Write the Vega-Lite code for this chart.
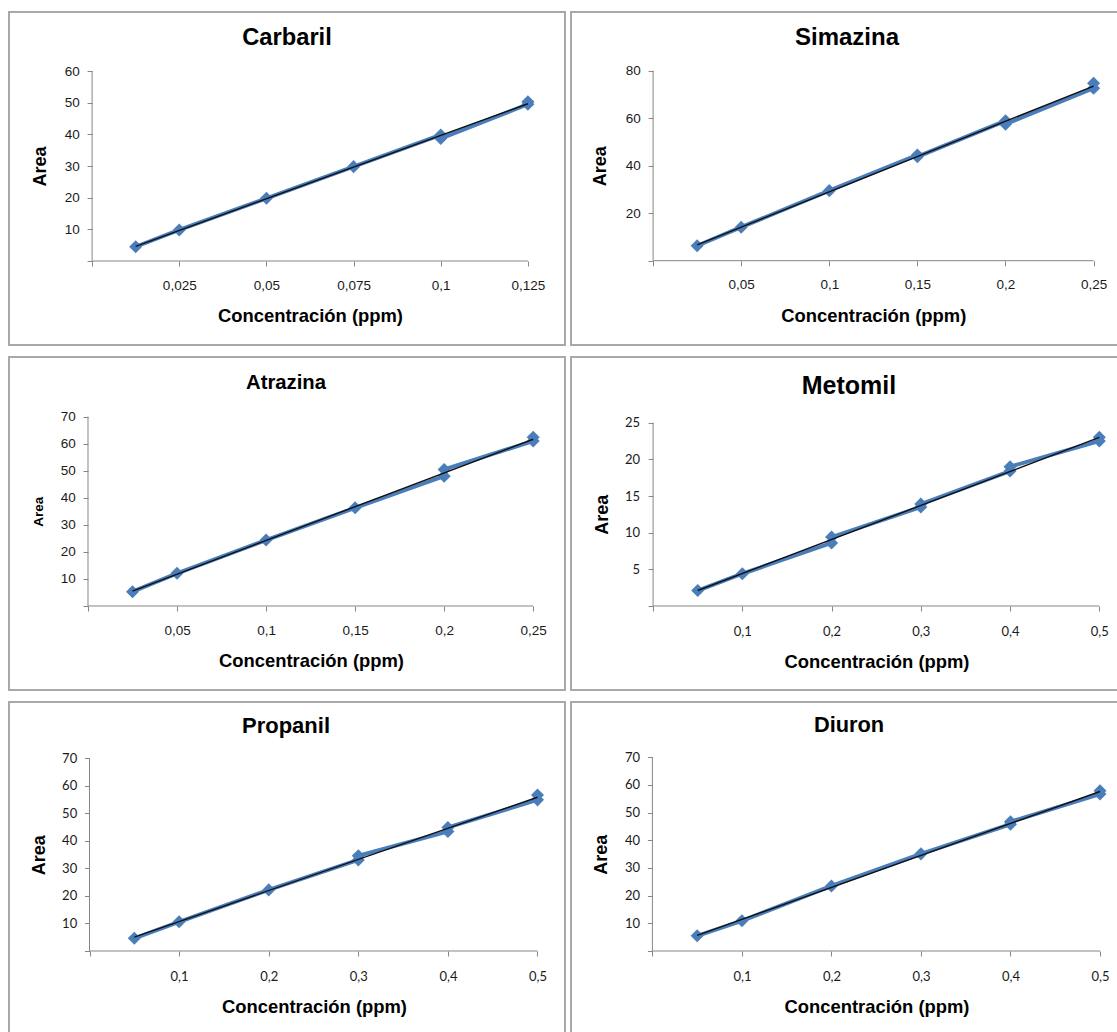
{
  "$schema": "https://vega.github.io/schema/vega-lite/v6.json",
  "padding": {"left": 8, "top": 11, "right": 0, "bottom": 0},
  "background": "white",
  "data": {
    "values": [
      {"panel": "Carbaril", "i": 1, "conc": 0.0125, "area": 4.5},
      {"panel": "Carbaril", "i": 2, "conc": 0.025, "area": 9.8},
      {"panel": "Carbaril", "i": 3, "conc": 0.05, "area": 19.8},
      {"panel": "Carbaril", "i": 4, "conc": 0.075, "area": 29.8},
      {"panel": "Carbaril", "i": 5, "conc": 0.1, "area": 39.8},
      {"panel": "Carbaril", "i": 6, "conc": 0.1, "area": 38.7},
      {"panel": "Carbaril", "i": 7, "conc": 0.125, "area": 49.5},
      {"panel": "Carbaril", "i": 8, "conc": 0.125, "area": 50.3},
      {"panel": "Simazina", "i": 1, "conc": 0.025, "area": 6.3},
      {"panel": "Simazina", "i": 2, "conc": 0.05, "area": 14.1},
      {"panel": "Simazina", "i": 3, "conc": 0.1, "area": 29.5},
      {"panel": "Simazina", "i": 4, "conc": 0.15, "area": 44.5},
      {"panel": "Simazina", "i": 5, "conc": 0.15, "area": 43.8},
      {"panel": "Simazina", "i": 6, "conc": 0.2, "area": 58.9},
      {"panel": "Simazina", "i": 7, "conc": 0.2, "area": 57.5},
      {"panel": "Simazina", "i": 8, "conc": 0.25, "area": 72.6},
      {"panel": "Simazina", "i": 9, "conc": 0.25, "area": 74.7},
      {"panel": "Atrazina", "i": 1, "conc": 0.025, "area": 5.3},
      {"panel": "Atrazina", "i": 2, "conc": 0.05, "area": 12.1},
      {"panel": "Atrazina", "i": 3, "conc": 0.1, "area": 24.4},
      {"panel": "Atrazina", "i": 4, "conc": 0.15, "area": 36.3},
      {"panel": "Atrazina", "i": 5, "conc": 0.2, "area": 48.0},
      {"panel": "Atrazina", "i": 6, "conc": 0.2, "area": 50.5},
      {"panel": "Atrazina", "i": 7, "conc": 0.25, "area": 61.0},
      {"panel": "Atrazina", "i": 8, "conc": 0.25, "area": 62.4},
      {"panel": "Metomil", "i": 1, "conc": 0.05, "area": 2.1},
      {"panel": "Metomil", "i": 2, "conc": 0.1, "area": 4.4},
      {"panel": "Metomil", "i": 3, "conc": 0.2, "area": 8.6},
      {"panel": "Metomil", "i": 4, "conc": 0.2, "area": 9.4},
      {"panel": "Metomil", "i": 5, "conc": 0.3, "area": 13.5},
      {"panel": "Metomil", "i": 6, "conc": 0.3, "area": 13.9},
      {"panel": "Metomil", "i": 7, "conc": 0.4, "area": 18.4},
      {"panel": "Metomil", "i": 8, "conc": 0.4, "area": 19.0},
      {"panel": "Metomil", "i": 9, "conc": 0.5, "area": 22.5},
      {"panel": "Metomil", "i": 10, "conc": 0.5, "area": 23.0},
      {"panel": "Propanil", "i": 1, "conc": 0.05, "area": 4.6},
      {"panel": "Propanil", "i": 2, "conc": 0.1, "area": 10.6},
      {"panel": "Propanil", "i": 3, "conc": 0.2, "area": 22.2},
      {"panel": "Propanil", "i": 4, "conc": 0.3, "area": 33.1},
      {"panel": "Propanil", "i": 5, "conc": 0.3, "area": 34.6},
      {"panel": "Propanil", "i": 6, "conc": 0.4, "area": 43.4},
      {"panel": "Propanil", "i": 7, "conc": 0.4, "area": 44.9},
      {"panel": "Propanil", "i": 8, "conc": 0.5, "area": 54.9},
      {"panel": "Propanil", "i": 9, "conc": 0.5, "area": 56.7},
      {"panel": "Diuron", "i": 1, "conc": 0.05, "area": 5.5},
      {"panel": "Diuron", "i": 2, "conc": 0.1, "area": 10.9},
      {"panel": "Diuron", "i": 3, "conc": 0.2, "area": 23.5},
      {"panel": "Diuron", "i": 4, "conc": 0.3, "area": 35.1},
      {"panel": "Diuron", "i": 5, "conc": 0.4, "area": 45.8},
      {"panel": "Diuron", "i": 6, "conc": 0.4, "area": 46.7},
      {"panel": "Diuron", "i": 7, "conc": 0.5, "area": 56.7},
      {"panel": "Diuron", "i": 8, "conc": 0.5, "area": 57.9}
    ]
  },
  "columns": 2,
  "spacing": {"row": 12, "column": 6},
  "bounds": "flush",
  "concat": [
    {
      "width": 556, "height": 333,
      "title": {"text": "Carbaril", "fontSize": 23.7, "dx": 0, "dy": 41.5},
      "transform": [{"filter": "datum.panel === 'Carbaril'"}],
      "encoding": {
        "x": {"field": "conc", "type": "quantitative", "title": "Concentración (ppm)",
          "scale": {"domain": [-0.023836, 0.135641], "nice": false, "zero": false},
          "axis": {"values": [0, 0.025, 0.05, 0.075, 0.1, 0.125], "offset": -84, "titleX": 301, "titleY": 54,
            "labelExpr": "datum.value == 0 ? '' : replace(format(datum.value, '~g'), '.', ',')"}},
        "y": {"field": "area", "type": "quantitative", "title": "Area",
          "scale": {"domain": [-26.526, 78.632], "nice": false, "zero": false},
          "axis": {"values": [0, 10, 20, 30, 40, 50, 60], "offset": -83.1, "titleX": -52.1, "titleY": 154,
            "labelExpr": "datum.value == 0 ? '' : datum.label"}}
      },
      "layer": [
        {"mark": {"type": "line", "color": "#4a7ebb", "strokeWidth": 4}, "encoding": {"order": {"field": "i"}}},
        {"mark": {"type": "point", "shape": "diamond", "filled": true, "size": 170, "color": "#4a7ebb", "opacity": 1}},
        {"transform": [{"regression": "area", "on": "conc"}], "mark": {"type": "line", "color": "#111111", "strokeWidth": 1.4}},
        {"transform": [{"filter": "datum.i == 1"}], "mark": {"type": "rule", "color": "#868686", "strokeWidth": 1},
          "encoding": {"x": {"datum": 0, "type": "quantitative"}, "x2": {"datum": 0.125}, "y": {"datum": 0, "type": "quantitative"}}},
        {"transform": [{"filter": "datum.i == 1"}], "mark": {"type": "rule", "color": "#868686", "strokeWidth": 1},
          "encoding": {"x": {"datum": 0, "type": "quantitative"}, "y": {"datum": 0, "type": "quantitative"}, "y2": {"datum": 60}}}
      ]
    },
    {
      "width": 556, "height": 333,
      "title": {"text": "Simazina", "fontSize": 24, "dx": -2, "dy": 41.7},
      "transform": [{"filter": "datum.panel === 'Simazina'"}],
      "encoding": {
        "x": {"field": "conc", "type": "quantitative", "title": "Concentración (ppm)",
          "scale": {"domain": [-0.046595, 0.268956], "nice": false, "zero": false},
          "axis": {"values": [0, 0.05, 0.1, 0.15, 0.2, 0.25], "offset": -84.3, "titleX": 302.3, "titleY": 54.3,
            "labelExpr": "datum.value == 0 ? '' : replace(format(datum.value, '~g'), '.', ',')"}},
        "y": {"field": "area", "type": "quantitative", "title": "Area",
          "scale": {"domain": [-35.495, 104.716], "nice": false, "zero": false},
          "axis": {"values": [0, 20, 40, 60, 80], "offset": -82.1, "titleX": -52.2, "titleY": 153.7,
            "labelExpr": "datum.value == 0 ? '' : datum.label"}}
      },
      "layer": [
        {"mark": {"type": "line", "color": "#4a7ebb", "strokeWidth": 4}, "encoding": {"order": {"field": "i"}}},
        {"mark": {"type": "point", "shape": "diamond", "filled": true, "size": 170, "color": "#4a7ebb", "opacity": 1}},
        {"transform": [{"regression": "area", "on": "conc"}], "mark": {"type": "line", "color": "#111111", "strokeWidth": 1.4}},
        {"transform": [{"filter": "datum.i == 1"}], "mark": {"type": "rule", "color": "#868686", "strokeWidth": 1},
          "encoding": {"x": {"datum": 0, "type": "quantitative"}, "x2": {"datum": 0.25}, "y": {"datum": 0, "type": "quantitative"}}},
        {"transform": [{"filter": "datum.i == 1"}], "mark": {"type": "rule", "color": "#868686", "strokeWidth": 1},
          "encoding": {"x": {"datum": 0, "type": "quantitative"}, "y": {"datum": 0, "type": "quantitative"}, "y2": {"datum": 80}}}
      ]
    },
    {
      "width": 556, "height": 333,
      "title": {"text": "Atrazina", "fontSize": 20.3, "dx": -1, "dy": 40.4},
      "transform": [{"filter": "datum.panel === 'Atrazina'"}],
      "encoding": {
        "x": {"field": "conc", "type": "quantitative", "title": "Concentración (ppm)",
          "scale": {"domain": [-0.044362, 0.267857], "nice": false, "zero": false},
          "axis": {"values": [0, 0.05, 0.1, 0.15, 0.2, 0.25], "offset": -84, "titleX": 302, "titleY": 54,
            "labelExpr": "datum.value == 0 ? '' : replace(format(datum.value, '~g'), '.', ',')"}},
        "y": {"field": "area", "type": "quantitative", "title": "Area",
          "scale": {"domain": [-31.062, 92.076], "nice": false, "zero": false},
          "axis": {"values": [0, 10, 20, 30, 40, 50, 60, 70], "offset": -79, "titleX": -50, "titleY": 154.3, "titleFontSize": 13.5,
            "labelExpr": "datum.value == 0 ? '' : datum.label"}}
      },
      "layer": [
        {"mark": {"type": "line", "color": "#4a7ebb", "strokeWidth": 4}, "encoding": {"order": {"field": "i"}}},
        {"mark": {"type": "point", "shape": "diamond", "filled": true, "size": 170, "color": "#4a7ebb", "opacity": 1}},
        {"transform": [{"regression": "area", "on": "conc"}], "mark": {"type": "line", "color": "#111111", "strokeWidth": 1.4}},
        {"transform": [{"filter": "datum.i == 1"}], "mark": {"type": "rule", "color": "#868686", "strokeWidth": 1},
          "encoding": {"x": {"datum": 0, "type": "quantitative"}, "x2": {"datum": 0.25}, "y": {"datum": 0, "type": "quantitative"}}},
        {"transform": [{"filter": "datum.i == 1"}], "mark": {"type": "rule", "color": "#868686", "strokeWidth": 1},
          "encoding": {"x": {"datum": 0, "type": "quantitative"}, "y": {"datum": 0, "type": "quantitative"}, "y2": {"datum": 70}}}
      ]
    },
    {
      "width": 556, "height": 333,
      "title": {"text": "Metomil", "fontSize": 25, "dx": 0, "dy": 46.2},
      "transform": [{"filter": "datum.panel === 'Metomil'"}],
      "encoding": {
        "x": {"field": "conc", "type": "quantitative", "title": "Concentración (ppm)",
          "scale": {"domain": [-0.092, 0.53104], "nice": false, "zero": false},
          "axis": {"values": [0, 0.1, 0.2, 0.3, 0.4, 0.5], "offset": -84, "titleX": 305.5, "titleY": 55.7,
            "labelFont": "Lato", "labelFontSize": 13, "labelPadding": 20.7,
            "labelExpr": "datum.value == 0 ? '' : replace(format(datum.value, '~g'), '.', ',')"}},
        "y": {"field": "area", "type": "quantitative", "title": "Area",
          "scale": {"domain": [-11.457, 33.961], "nice": false, "zero": false},
          "axis": {"values": [0, 5, 10, 15, 20, 25], "offset": -82.1, "titleX": -50.5, "titleY": 157.3,
            "labelFont": "Lato", "labelFontSize": 13, "labelPadding": 8.5,
            "labelExpr": "datum.value == 0 ? '' : datum.label"}}
      },
      "layer": [
        {"mark": {"type": "line", "color": "#4a7ebb", "strokeWidth": 4}, "encoding": {"order": {"field": "i"}}},
        {"mark": {"type": "point", "shape": "diamond", "filled": true, "size": 170, "color": "#4a7ebb", "opacity": 1}},
        {"transform": [{"regression": "area", "on": "conc"}], "mark": {"type": "line", "color": "#111111", "strokeWidth": 1.4}},
        {"transform": [{"filter": "datum.i == 1"}], "mark": {"type": "rule", "color": "#868686", "strokeWidth": 1},
          "encoding": {"x": {"datum": 0, "type": "quantitative"}, "x2": {"datum": 0.5}, "y": {"datum": 0, "type": "quantitative"}}},
        {"transform": [{"filter": "datum.i == 1"}], "mark": {"type": "rule", "color": "#868686", "strokeWidth": 1},
          "encoding": {"x": {"datum": 0, "type": "quantitative"}, "y": {"datum": 0, "type": "quantitative"}, "y2": {"datum": 25}}}
      ]
    },
    {
      "width": 556, "height": 333,
      "title": {"text": "Propanil", "fontSize": 22, "dx": -1, "dy": 39.7},
      "transform": [{"filter": "datum.panel === 'Propanil'"}],
      "encoding": {
        "x": {"field": "conc", "type": "quantitative", "title": "Concentración (ppm)",
          "scale": {"domain": [-0.089844, 0.530692], "nice": false, "zero": false},
          "axis": {"values": [0, 0.1, 0.2, 0.3, 0.4, 0.5], "offset": -84, "titleX": 305, "titleY": 55.7,
            "labelFont": "Lato", "labelFontSize": 13, "labelPadding": 20.7,
            "labelExpr": "datum.value == 0 ? '' : replace(format(datum.value, '~g'), '.', ',')"}},
        "y": {"field": "area", "type": "quantitative", "title": "Area",
          "scale": {"domain": [-30.514, 90.451], "nice": false, "zero": false},
          "axis": {"values": [0, 10, 20, 30, 40, 50, 60, 70], "offset": -80.5, "titleX": -50.2, "titleY": 152.7,
            "labelFont": "Lato", "labelFontSize": 13,
            "labelExpr": "datum.value == 0 ? '' : datum.label"}}
      },
      "layer": [
        {"mark": {"type": "line", "color": "#4a7ebb", "strokeWidth": 4}, "encoding": {"order": {"field": "i"}}},
        {"mark": {"type": "point", "shape": "diamond", "filled": true, "size": 170, "color": "#4a7ebb", "opacity": 1}},
        {"transform": [{"regression": "area", "on": "conc"}], "mark": {"type": "line", "color": "#111111", "strokeWidth": 1.4}},
        {"transform": [{"filter": "datum.i == 1"}], "mark": {"type": "rule", "color": "#868686", "strokeWidth": 1},
          "encoding": {"x": {"datum": 0, "type": "quantitative"}, "x2": {"datum": 0.5}, "y": {"datum": 0, "type": "quantitative"}}},
        {"transform": [{"filter": "datum.i == 1"}], "mark": {"type": "rule", "color": "#868686", "strokeWidth": 1},
          "encoding": {"x": {"datum": 0, "type": "quantitative"}, "y": {"datum": 0, "type": "quantitative"}, "y2": {"datum": 70}}}
      ]
    },
    {
      "width": 556, "height": 333,
      "title": {"text": "Diuron", "fontSize": 21.8, "dx": 0, "dy": 38.9},
      "transform": [{"filter": "datum.panel === 'Diuron'"}],
      "encoding": {
        "x": {"field": "conc", "type": "quantitative", "title": "Concentración (ppm)",
          "scale": {"domain": [-0.09093, 0.53016], "nice": false, "zero": false},
          "axis": {"values": [0, 0.1, 0.2, 0.3, 0.4, 0.5], "offset": -84, "titleX": 305.5, "titleY": 55.7,
            "labelFont": "Lato", "labelFontSize": 13, "labelPadding": 20.7,
            "labelExpr": "datum.value == 0 ? '' : replace(format(datum.value, '~g'), '.', ',')"}},
        "y": {"field": "area", "type": "quantitative", "title": "Area",
          "scale": {"domain": [-30.356, 89.985], "nice": false, "zero": false},
          "axis": {"values": [0, 10, 20, 30, 40, 50, 60, 70], "offset": -81.4, "titleX": -51.2, "titleY": 152.2,
            "labelFont": "Lato", "labelFontSize": 13,
            "labelExpr": "datum.value == 0 ? '' : datum.label"}}
      },
      "layer": [
        {"mark": {"type": "line", "color": "#4a7ebb", "strokeWidth": 4}, "encoding": {"order": {"field": "i"}}},
        {"mark": {"type": "point", "shape": "diamond", "filled": true, "size": 170, "color": "#4a7ebb", "opacity": 1}},
        {"transform": [{"regression": "area", "on": "conc"}], "mark": {"type": "line", "color": "#111111", "strokeWidth": 1.4}},
        {"transform": [{"filter": "datum.i == 1"}], "mark": {"type": "rule", "color": "#868686", "strokeWidth": 1},
          "encoding": {"x": {"datum": 0, "type": "quantitative"}, "x2": {"datum": 0.5}, "y": {"datum": 0, "type": "quantitative"}}},
        {"transform": [{"filter": "datum.i == 1"}], "mark": {"type": "rule", "color": "#868686", "strokeWidth": 1},
          "encoding": {"x": {"datum": 0, "type": "quantitative"}, "y": {"datum": 0, "type": "quantitative"}, "y2": {"datum": 70}}}
      ]
    }
  ],
  "resolve": {"scale": {"x": "independent", "y": "independent"}},
  "config": {
    "font": "Liberation Sans",
    "view": {"stroke": "#a8a8a8", "strokeWidth": 2, "fill": "white"},
    "title": {"font": "Liberation Sans", "fontWeight": "bold", "color": "#000000", "anchor": "middle", "frame": "group"},
    "axis": {
      "domain": false, "grid": false, "ticks": true, "tickSize": 5, "tickColor": "#868686", "tickWidth": 1,
      "labelFont": "Liberation Sans", "labelFontSize": 13.5, "labelColor": "#1a1a1a", "labelPadding": 7.8, "labelOverlap": false,
      "titleFont": "Liberation Sans", "titleFontWeight": "bold", "titleColor": "#000000", "titleBaseline": "middle"
    },
    "axisX": {"labelBaseline": "middle", "labelPadding": 19, "labelFlush": false, "titleFontSize": 18.4},
    "axisY": {"titleFontSize": 18, "titleAngle": -90}
  }
}
